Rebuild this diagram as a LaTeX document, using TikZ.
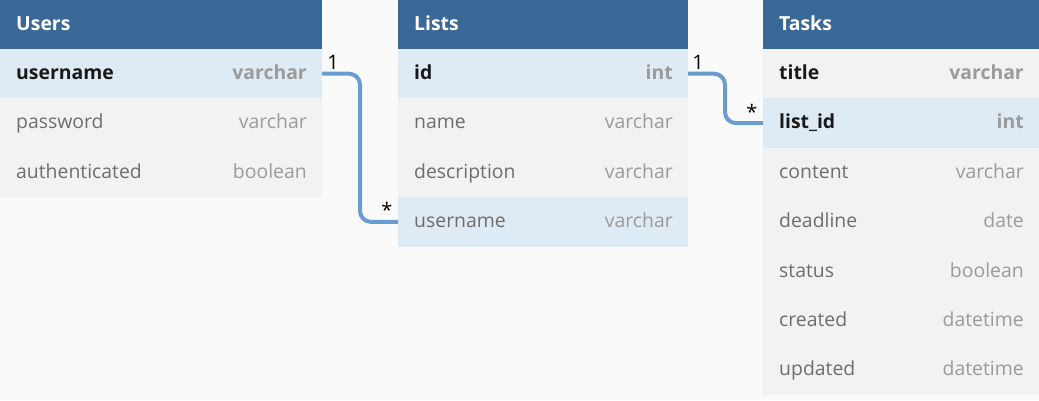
\documentclass[tikz,border=0pt]{standalone}
\usepackage{fontspec}
\setmainfont{Open Sans}
\definecolor{hdr}{HTML}{3A6897}
\definecolor{keyrow}{HTML}{DEEBF4}
\definecolor{plainrow}{HTML}{F2F2F2}
\definecolor{bg}{HTML}{FAFAFA}
\definecolor{conncol}{HTML}{6A9DCF}
\definecolor{nametxt}{HTML}{6E6E6E}
\definecolor{typetxt}{HTML}{9B9B9B}
\newcommand\tfont{\fontsize{19.4}{22}\selectfont}
\tikzset{
  cell/.style={draw=none, inner sep=0pt, outer sep=0pt, anchor=north west, minimum height=49.4pt},
  hdrcell/.style={cell, fill=hdr, minimum height=49pt},
  keycell/.style={cell, fill=keyrow},
  plaincell/.style={cell, fill=plainrow},
  fname/.style={anchor=base west, inner sep=0pt, font=\tfont, text=nametxt},
  fnamebold/.style={fname, font=\tfont\bfseries, text=black!90},
  ftype/.style={anchor=base east, inner sep=0pt, font=\tfont, text=typetxt},
  ftypebold/.style={ftype, font=\tfont\bfseries, text=typetxt},
  htitle/.style={anchor=base west, inner sep=0pt, font=\tfont\bfseries, text=white},
  conn/.style={draw=conncol, line width=4pt, rounded corners=11pt},
  card/.style={inner sep=0pt, font=\fontsize{20}{22}\selectfont, text=black}
}
% \erow{id}{x}{y}{width}{cellstyle}{namestyle}{typestyle}{field}{type}
\newcommand\erow[9]{%
  \node[#5, minimum width=#4pt] (#1) at (#2pt,-#3pt) {};
  \node[#6] (#1n) at ([xshift=16pt,yshift=-30.5pt]#1.north west) {#8};
  \node[#7] (#1t) at ([xshift=-15pt,yshift=-30.5pt]#1.north east) {#9};
}
\newcommand\ehead[5]{%
  \node[hdrcell, minimum width=#4pt] (#1) at (#2pt,-#3pt) {};
  \node[htitle] (#1n) at ([xshift=16pt,yshift=-30pt]#1.north west) {#5};
}
\begin{document}
\begin{tikzpicture}[x=1pt,y=1pt]
\fill[bg] (0,0) rectangle (1039,-400);
\useasboundingbox (0,0) rectangle (1039,-400);
% Users
\ehead{uh}{0}{0}{322}{Users}
\erow{u1}{0}{49}{322}{keycell}{fnamebold}{ftypebold}{username}{varchar}
\erow{u2}{0}{98.4}{322}{plaincell}{fname}{ftype}{password}{varchar}
\erow{u3}{0}{147.8}{322}{plaincell}{fname}{ftype}{authenticated}{boolean}
% Lists
\ehead{lh}{398}{0}{290}{Lists}
\erow{l1}{398}{49}{290}{keycell}{fnamebold}{ftypebold}{id}{int}
\erow{l2}{398}{98.4}{290}{plaincell}{fname}{ftype}{name}{varchar}
\erow{l3}{398}{147.8}{290}{plaincell}{fname}{ftype}{description}{varchar}
\erow{l4}{398}{197.2}{290}{keycell}{fname}{ftype}{username}{varchar}
% Tasks
\ehead{th}{763}{0}{276}{Tasks}
\erow{t1}{763}{49}{276}{plaincell}{fnamebold}{ftypebold}{title}{varchar}
\erow{t2}{763}{98.4}{276}{keycell}{fnamebold}{ftypebold}{list\_id}{int}
\erow{t3}{763}{147.8}{276}{plaincell}{fname}{ftype}{content}{varchar}
\erow{t4}{763}{197.2}{276}{plaincell}{fname}{ftype}{deadline}{date}
\erow{t5}{763}{246.6}{276}{plaincell}{fname}{ftype}{status}{boolean}
\erow{t6}{763}{296}{276}{plaincell}{fname}{ftype}{created}{datetime}
\erow{t7}{763}{345.4}{276}{plaincell}{fname}{ftype}{updated}{datetime}
% connectors
\coordinate (c1) at (360,-150);
\coordinate (c2) at (725,-100);
\draw[conn] (u1.east) -| (c1) |- (l4.west);
\draw[conn] (l1.east) -| (c2) |- (t2.west);
% cardinalities
\node[card] (k1) at (333,-62) {1};
\node[card] (k2) at (387,-210) {*};
\node[card] (k3) at (698,-62) {1};
\node[card] (k4) at (752,-112) {*};
\end{tikzpicture}
\end{document}
